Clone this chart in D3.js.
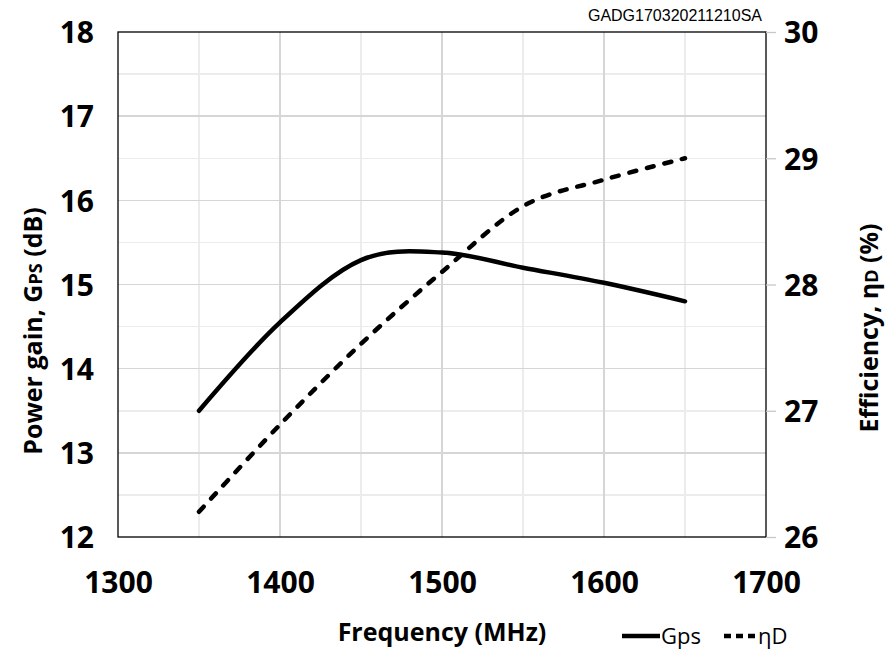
<!DOCTYPE html>
<html><head><meta charset="utf-8">
<script src="https://cdn.jsdelivr.net/npm/d3@7/dist/d3.min.js"></script>
<style>
body{margin:0;background:#fff;}
text{font-family:"Open Sans",sans-serif;fill:#000;}
</style></head>
<body><svg id="c" width="885" height="653"></svg>
<script>
const freq = [1350, 1400, 1450, 1500, 1550, 1600, 1650];
const gps  = [13.5, 14.55, 15.29, 15.38, 15.2, 15.02, 14.8];
const etaD = [26.2, 26.89, 27.53, 28.1, 28.62, 28.83, 29.0];
const xTicks = [1300, 1400, 1500, 1600, 1700];
const yLeftTicks = [12, 13, 14, 15, 16, 17, 18];
const yRightTicks = [26, 27, 28, 29, 30];

const svg = d3.select("#c");
const L = 118, R = 766, T = 32, B = 537;
const x = d3.scaleLinear().domain([1300, 1700]).range([L, R]);
const yL = d3.scaleLinear().domain([12, 18]).range([B, T]);
const yR = d3.scaleLinear().domain([26, 30]).range([B, T]);

// minor grid
const g = svg.append("g").attr("shape-rendering", "crispEdges");
d3.range(12.5, 18, 1).forEach(v => g.append("line").attr("x1", L).attr("x2", R).attr("y1", yL(v)).attr("y2", yL(v)).attr("stroke", "#ececec").attr("stroke-width", 1.5));
d3.range(1350, 1700, 100).forEach(v => g.append("line").attr("y1", T).attr("y2", B).attr("x1", x(v)).attr("x2", x(v)).attr("stroke", "#ececec").attr("stroke-width", 1.5));
// major grid
yLeftTicks.slice(1, -1).forEach(v => g.append("line").attr("x1", L).attr("x2", R).attr("y1", yL(v)).attr("y2", yL(v)).attr("stroke", "#d6d6d6").attr("stroke-width", 1.5));
xTicks.slice(1, -1).forEach(v => g.append("line").attr("y1", T).attr("y2", B).attr("x1", x(v)).attr("x2", x(v)).attr("stroke", "#d6d6d6").attr("stroke-width", 1.5));

// frame
svg.append("rect").attr("x", L).attr("y", T).attr("width", R - L).attr("height", B - T).attr("fill", "none").attr("stroke", "#000").attr("stroke-width", 1.3);

// axes
const fmt = d3.format("d");
const axL = svg.append("g").attr("transform", `translate(${L},0)`).call(d3.axisLeft(yL).tickValues(yLeftTicks).tickFormat(fmt).tickSize(0).tickPadding(24));
const axR = svg.append("g").attr("transform", `translate(${R},0)`).call(d3.axisRight(yR).tickValues(yRightTicks).tickFormat(fmt).tickSize(10).tickPadding(8));
const axB = svg.append("g").attr("transform", `translate(0,${B})`).call(d3.axisBottom(x).tickValues(xTicks).tickFormat(fmt).tickSize(0).tickPadding(35));
[axL, axR, axB].forEach(a => {
  a.select(".domain").remove();
  a.selectAll("text").style("font-size", "30px").style("font-weight", "bold").style("font-family", "Open Sans");
});
axR.selectAll(".tick line").attr("stroke", "#c8c8c8").attr("stroke-width", 1.3);
axL.selectAll("text").attr("dy", "0.36em");
axR.selectAll("text").attr("dy", "0.36em");

// lines
const curve = d3.curveCardinal.tension(0);
const lineG = d3.line().x((d, i) => x(freq[i])).y(d => yL(d)).curve(curve);
const lineE = d3.line().x((d, i) => x(freq[i])).y(d => yR(d)).curve(curve);
svg.append("path").attr("d", lineE(etaD)).attr("fill", "none").attr("stroke", "#000").attr("stroke-width", 4.5).attr("stroke-linecap", "round").attr("stroke-dasharray", "7,11");
svg.append("path").attr("d", lineG(gps)).attr("fill", "none").attr("stroke", "#000").attr("stroke-width", 4.5).attr("stroke-linecap", "round");

// titles
const lt = svg.append("text").attr("transform", "translate(42,331) rotate(-90)").attr("text-anchor", "middle").style("font-size", "25px").style("font-weight", "bold");
lt.append("tspan").text("Power gain, G");
lt.append("tspan").style("font-size", "18px").text("PS");
lt.append("tspan").text(" (dB)");
const rt = svg.append("text").attr("transform", "translate(878,328) rotate(-90)").attr("text-anchor", "middle").style("font-size", "25px").style("font-weight", "bold");
rt.append("tspan").text("Efficiency, η");
rt.append("tspan").style("font-size", "18px").text("D");
rt.append("tspan").text(" (%)");
svg.append("text").attr("x", 442).attr("y", 641).attr("text-anchor", "middle").style("font-size", "25px").style("font-weight", "bold").text("Frequency (MHz)");
svg.append("text").attr("x", 762).attr("y", 21).attr("text-anchor", "end").style("font-size", "16px").style("font-family", "Liberation Sans").text("GADG170320211210SA");

// legend
svg.append("line").attr("x1", 622).attr("x2", 660).attr("y1", 636).attr("y2", 636).attr("stroke", "#000").attr("stroke-width", 4.5);
svg.append("text").attr("x", 661).attr("y", 644).style("font-size", "22px").text("Gps");
svg.append("line").attr("x1", 724).attr("x2", 756).attr("y1", 636).attr("y2", 636).attr("stroke", "#000").attr("stroke-width", 4.5).attr("stroke-dasharray", "7,5");
svg.append("text").attr("x", 758).attr("y", 644).style("font-size", "22px").text("ηD");
</script></body></html>
